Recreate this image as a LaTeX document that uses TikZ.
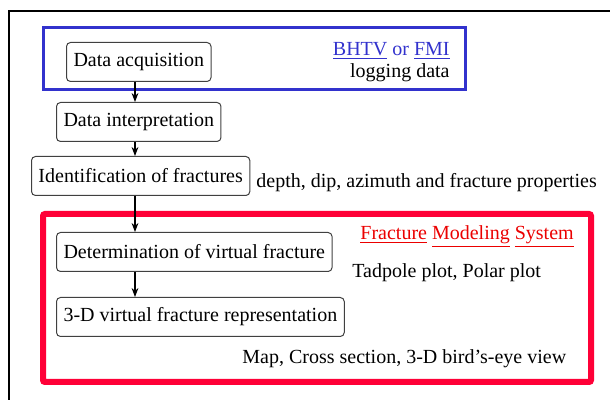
\documentclass[tikz,border=0pt]{standalone}
\usepackage{fontspec}
\setmainfont{Liberation Serif}
\usetikzlibrary{arrows.meta}
\definecolor{frameblue}{RGB}{50,50,205}
\definecolor{framered}{RGB}{255,0,55}
\definecolor{textred}{RGB}{235,0,0}
\begin{document}
\begin{tikzpicture}[
    x=0.5pt, y=-0.5pt,
    stepbox/.style={draw=black!75, line width=0.5pt, rounded corners=2pt,
        minimum height=19.5pt, inner xsep=3.5pt, anchor=west},
    note/.style={inner sep=0pt, anchor=west},
    >={Stealth[length=4.5pt, width=3.4pt]}
]
\useasboundingbox (0,0) rectangle (610,400);
\draw[line width=1pt] (8.5,400) -- (8.5,11) -- (610,11);

\draw[frameblue, line width=1.5pt] (43,28) rectangle (465,90);
\draw[framered, line width=3pt, rounded corners=1pt] (43,214) rectangle (591,382);

\node[stepbox] (acq) at (66,62) {Data acquisition};
\node[stepbox] (interp) at (56,122) {Data interpretation};
\node[stepbox] (ident) at (31,176) {Identification of fractures};
\node[stepbox] (det) at (56,252) {Determination of virtual fracture};
\node[stepbox] (rep) at (56,317) {3-D virtual fracture representation};

\node[inner sep=0pt, anchor=east, align=right, text=frameblue] (src) at (450,62)
    {\underline{BHTV} or \underline{FMI}\\[-1pt] \color{black}logging data};
\node[note] (props) at (256,183) {depth, dip, azimuth and fracture properties};
\node[note, text=textred] (fms) at (360,237)
    {\underline{Fracture} \underline{Modeling} \underline{System}};
\node[note] (plots) at (352,273) {Tadpole plot, Polar plot};
\node[note] (views) at (242,359) {Map, Cross section, 3-D bird's-eye view};

\coordinate (spine) at (135,0);
\draw[->, line width=0.6pt] (spine |- acq.south) -- (spine |- interp.north);
\draw[->, line width=0.6pt] (spine |- interp.south) -- (spine |- ident.north);
\draw[->, line width=0.6pt] (spine |- ident.south) -- (spine |- det.north);
\draw[->, line width=0.6pt] (spine |- det.south) -- (spine |- rep.north);
\end{tikzpicture}
\end{document}
